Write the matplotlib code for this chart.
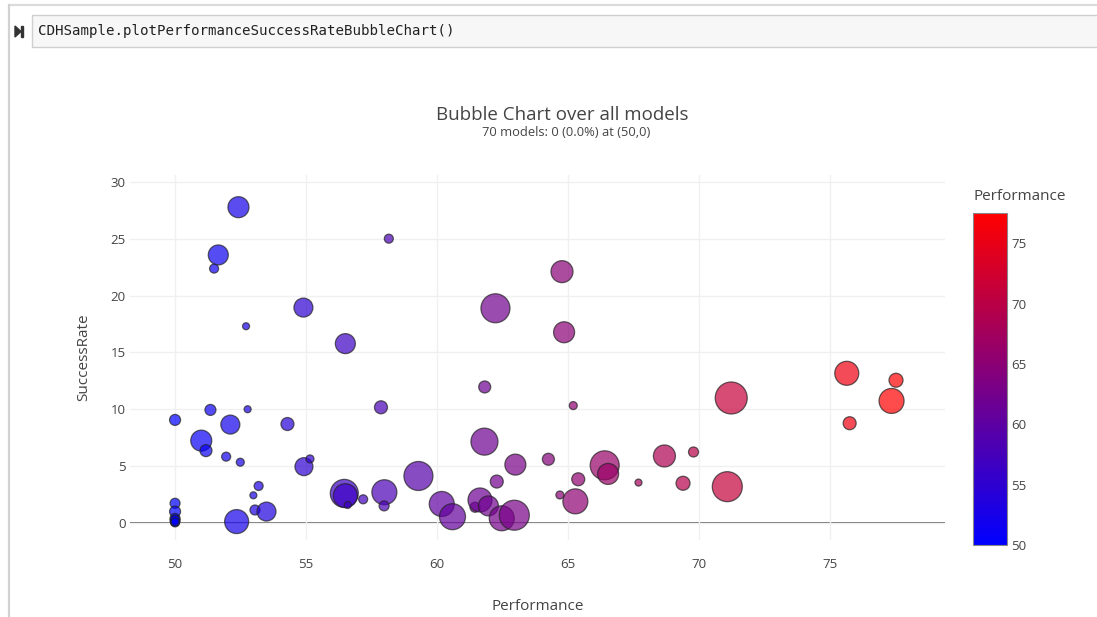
import matplotlib
matplotlib.use("Agg")
import matplotlib.pyplot as plt
from matplotlib.colors import LinearSegmentedColormap
from matplotlib.patches import Rectangle, Polygon
from matplotlib.lines import Line2D
import numpy as np

plt.rcParams['font.family'] = ['Open Sans', 'DejaVu Sans']

# model performance (x), success rate (y) and bubble size (responses, px diameter)
performance = [52.42, 51.65, 51.49, 58.16, 54.90, 52.71, 56.50, 57.86, 50.00, 51.35,
               52.77, 52.11, 54.29, 51.00, 51.18, 51.95, 52.49, 54.92, 55.15, 53.19,
               52.99, 53.05, 53.49, 52.35, 50.00, 50.00, 50.00, 50.00, 56.46, 56.50,
               56.59, 57.18, 57.99, 57.98, 59.29, 60.18, 60.59, 61.45, 61.64, 61.96,
               62.47, 62.95, 62.28, 62.99, 64.25, 61.81, 61.82, 65.20, 62.23, 64.77,
               64.85, 64.69, 65.28, 65.39, 66.40, 66.53, 67.69, 68.68, 69.79, 69.39,
               71.23, 71.08, 75.64, 75.75, 77.52, 77.35, 50.00, 50.00, 50.00, 50.00]
success_rate = [27.77, 23.57, 22.37, 25.00, 18.94, 17.30, 15.77, 10.17, 9.06, 9.94,
                10.00, 8.65, 8.70, 7.24, 6.36, 5.83, 5.34, 4.95, 5.63, 3.25,
                2.43, 1.14, 1.00, 0.12, 1.73, 1.00, 0.40, 0.12, 2.60, 2.40,
                1.58, 2.08, 2.70, 1.50, 4.13, 1.67, 0.55, 1.38, 2.02, 1.50,
                0.41, 0.68, 3.64, 5.13, 5.60, 7.15, 11.96, 10.32, 18.88, 22.10,
                16.77, 2.46, 1.90, 3.84, 5.07, 4.31, 3.55, 5.89, 6.24, 3.49,
                10.99, 3.19, 13.16, 8.77, 12.55, 10.73, 0.05, 0.20, 0.30, 0.08]
bubble_size = [21, 20, 9, 9, 19, 7, 20, 13, 11, 11,
               7, 19, 13, 21, 12, 9, 8, 18, 8, 9,
               7, 10, 19, 24, 10, 11, 10, 9, 28, 24,
               7, 9, 25, 10, 29, 25, 26, 10, 24, 20,
               25, 30, 13, 21, 12, 27, 12, 8, 29, 22,
               21, 8, 25, 13, 29, 21, 7, 22, 10, 14,
               32, 30, 24, 13, 14, 25, 9, 10, 9, 8]

W, H = 1097, 617
fig = plt.figure(figsize=(W / 100, H / 100), dpi=100)


def fx(px):
    return px / W


def fy(py):
    return 1 - py / H


# notebook cell chrome
fig.add_artist(Line2D([fx(9), 1], [fy(5), fy(5)], color='#dcdcdc', lw=1.6))
fig.add_artist(Line2D([fx(9), fx(9)], [fy(5), 0], color='#d2d2d2', lw=1.6))
fig.add_artist(Rectangle((fx(32), fy(47)), 1 - fx(32) + 0.01, fy(15) - fy(47),
                         facecolor='#f7f7f7', edgecolor='#cfcfcf', lw=1.0))
fig.add_artist(Polygon([[fx(15), fy(26)], [fx(15), fy(37)], [fx(21), fy(31.5)]],
                       closed=True, color='#333333'))
fig.add_artist(Rectangle((fx(21), fy(37)), fx(2.2), fy(26) - fy(37), color='#333333'))
fig.text(fx(38), fy(31), 'CDHSample.plotPerformanceSuccessRateBubbleChart()',
         family='DejaVu Sans Mono', fontsize=10.15, color='#222222', va='center')

# main plot
ax = fig.add_axes([fx(130), fy(540), fx(945) - fx(130), fy(175) - fy(540)])
cmap = LinearSegmentedColormap.from_list('bluered', ['#0000ff', '#ff0000'])
vmin, vmax = min(performance), max(performance)

sizes = (np.array(bubble_size) * 0.72) ** 2
sc = ax.scatter(performance, success_rate, s=sizes, c=performance, cmap=cmap,
                vmin=vmin, vmax=vmax, alpha=0.7, edgecolors='#222222',
                linewidths=0.9, zorder=3)

ax.set_xlim(48.28, 79.39)
ax.set_ylim(-1.5, 30.6)
ax.set_xticks([50, 55, 60, 65, 70, 75])
ax.set_yticks([0, 5, 10, 15, 20, 25, 30])
ax.grid(True, color='#f0f0f0', lw=1, zorder=0)
ax.axhline(0, color='#444444', lw=1.1, zorder=1)
for s in ax.spines.values():
    s.set_visible(False)
ax.tick_params(length=0, labelsize=9.5, labelcolor='#444444')
ax.tick_params(axis='x', pad=13)
ax.tick_params(axis='y', pad=3)
ax.set_xlabel('Performance', fontsize=11, color='#444444', labelpad=20)
ax.set_ylabel('SuccessRate', fontsize=11, color='#444444', labelpad=14)

fig.text(fx(562), fy(115), 'Bubble Chart over all models', ha='center',
         va='center', fontsize=13.5, color='#444444')
fig.text(fx(566), fy(133), '70 models: 0 (0.0%) at (50,0)', ha='center',
         va='center', fontsize=9.3, color='#444444')

# colorbar
cax = fig.add_axes([fx(973), fy(545), fx(34), fy(213) - fy(545)])
cb = fig.colorbar(sc, cax=cax)
cb.solids.set_alpha(1)
cb.set_ticks([50, 55, 60, 65, 70, 75])
cb.outline.set_edgecolor('#888888')
cb.outline.set_linewidth(0.8)
cax.tick_params(length=0, labelsize=9.5, labelcolor='#444444', pad=3)
fig.text(fx(1020), fy(196), 'Performance', ha='center', va='center',
         fontsize=11, color='#444444')

fig.savefig('out.png', dpi=100)
